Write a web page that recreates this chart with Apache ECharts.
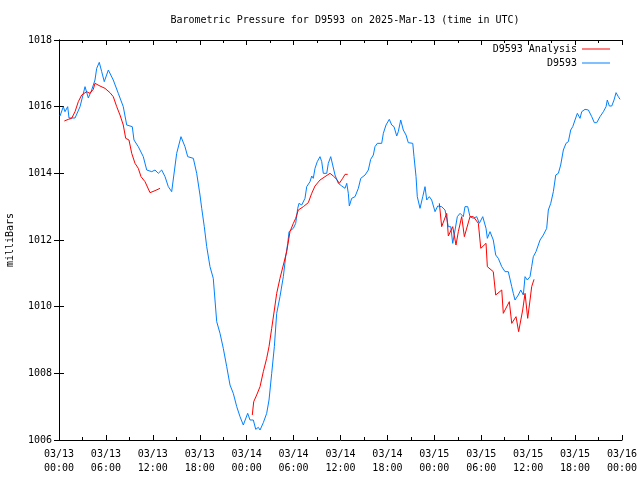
<!DOCTYPE html>
<html>
<head>
<meta charset="utf-8">
<script src="https://cdn.jsdelivr.net/npm/echarts@6/dist/echarts.min.js"></script>
<style>html,body{margin:0;padding:0;background:#fff}#c{width:640px;height:480px}</style>
</head>
<body>
<div id="c"></div>
<script>
// hours since 2025-03-13 00:00 UTC
var observedHours = [0.13,0.55,0.77,1.11,1.28,2.05,2.69,3.33,3.75,4.18,4.60,4.82,5.15,5.46,5.79,6.31,6.94,7.58,8.22,8.66,9.37,9.59,10.14,10.78,11.22,11.86,12.28,12.70,13.13,13.56,13.98,14.41,15.05,15.60,16.11,16.46,17.18,17.61,18.03,18.25,18.58,18.89,19.31,19.73,19.95,20.17,20.59,21.01,21.45,21.87,22.29,22.73,23.15,23.57,23.79,24.13,24.43,24.85,25.16,25.49,25.71,26.13,26.56,26.86,27.20,27.54,27.84,28.26,28.69,28.99,29.25,29.42,29.97,30.27,30.53,30.69,31.04,31.46,31.68,32.10,32.32,32.52,32.74,33.03,33.38,33.60,33.80,34.24,34.44,34.75,35.00,35.30,35.72,36.16,36.58,36.80,37.00,37.13,37.43,37.86,38.28,38.59,39.14,39.56,39.86,40.20,40.41,40.71,41.27,41.48,41.82,42.24,42.55,42.84,43.19,43.39,43.70,44.03,44.38,44.67,45.24,45.40,45.66,45.82,46.17,46.52,46.81,47.03,47.36,47.66,48.09,48.43,48.94,49.37,49.79,50.10,50.35,50.65,50.94,51.29,51.71,51.92,52.27,52.56,52.99,53.42,53.75,54.19,54.61,54.78,55.12,55.54,55.85,56.18,56.62,57.04,57.46,57.90,58.10,58.32,58.74,59.05,59.38,59.60,59.89,60.24,60.45,60.66,61.00,61.52,61.94,62.37,62.58,62.89,63.22,63.53,63.86,64.16,64.50,64.84,65.14,65.44,65.70,65.99,66.29,66.63,66.85,67.27,67.70,68.13,68.46,68.77,69.19,69.62,69.96,70.12,70.38,70.69,70.98,71.24,71.53,71.75];
var observedPressure = [1015.72,1016.0,1015.85,1016.0,1015.66,1015.66,1016.0,1016.6,1016.26,1016.5,1016.8,1017.15,1017.33,1017.05,1016.75,1017.1,1016.8,1016.4,1016.0,1015.45,1015.4,1015.0,1014.8,1014.5,1014.1,1014.05,1014.1,1014.0,1014.1,1013.9,1013.6,1013.45,1014.6,1015.1,1014.8,1014.5,1014.45,1014.0,1013.35,1012.95,1012.4,1011.8,1011.2,1010.85,1010.2,1009.55,1009.2,1008.75,1008.2,1007.65,1007.4,1007.0,1006.7,1006.45,1006.4,1006.8,1006.6,1006.6,1006.32,1006.38,1006.3,1006.52,1006.8,1007.2,1008.0,1008.8,1009.8,1010.3,1010.9,1011.5,1011.9,1012.25,1012.35,1012.5,1012.95,1013.1,1013.05,1013.25,1013.6,1013.75,1013.92,1013.85,1014.15,1014.35,1014.5,1014.35,1014.0,1014.0,1014.3,1014.5,1014.25,1013.95,1013.7,1013.62,1013.55,1013.7,1013.4,1013.02,1013.25,1013.3,1013.55,1013.85,1013.95,1014.1,1014.42,1014.55,1014.8,1014.9,1014.9,1015.2,1015.45,1015.62,1015.45,1015.4,1015.12,1015.25,1015.6,1015.3,1015.15,1014.92,1014.9,1014.5,1013.9,1013.3,1012.95,1013.3,1013.6,1013.2,1013.3,1013.2,1012.85,1013.02,1013.0,1012.9,1012.4,1012.4,1011.9,1012.3,1012.7,1012.8,1012.7,1013.0,1013.0,1012.7,1012.65,1012.7,1012.5,1012.7,1012.35,1012.05,1012.25,1012.0,1011.55,1011.45,1011.2,1011.05,1011.05,1010.6,1010.4,1010.2,1010.35,1010.5,1010.35,1010.9,1010.8,1010.9,1011.2,1011.5,1011.65,1012.0,1012.15,1012.35,1012.9,1013.1,1013.45,1013.95,1014.0,1014.25,1014.7,1014.9,1014.95,1015.3,1015.4,1015.6,1015.8,1015.65,1015.85,1015.92,1015.9,1015.7,1015.52,1015.52,1015.7,1015.85,1016.0,1016.2,1016.02,1016.02,1016.2,1016.42,1016.3,1016.22];
// analysis: null marks a gap between runs
var analysisHours = [0.68,1.19,1.62,2.05,2.47,2.90,3.54,3.96,4.39,4.60,5.24,5.88,6.52,6.94,7.38,7.80,8.22,8.53,8.95,9.30,9.72,10.14,10.49,11.00,11.64,12.28,12.92,null,
  24.72,24.90,25.28,25.71,26.13,26.56,26.86,27.20,27.54,27.84,28.26,28.69,29.12,29.54,29.97,30.27,30.60,31.25,31.88,32.32,32.74,33.38,34.02,34.66,35.08,35.51,35.85,36.28,36.58,36.92,null,
  48.64,48.94,49.58,49.79,50.35,50.77,51.07,51.50,51.84,52.56,52.99,53.63,53.94,54.61,54.78,55.54,55.85,56.62,56.82,57.59,57.90,58.45,58.78,59.30,59.60,59.94,60.24,60.45,60.75];
var analysisPressure = [1015.57,1015.62,1015.65,1015.85,1016.15,1016.35,1016.45,1016.4,1016.52,1016.7,1016.62,1016.55,1016.42,1016.3,1016.0,1015.75,1015.45,1015.05,1015.0,1014.6,1014.3,1014.15,1013.9,1013.75,1013.42,1013.48,1013.55,null,
  1006.75,1007.15,1007.35,1007.6,1008.05,1008.45,1008.8,1009.35,1009.9,1010.4,1010.85,1011.25,1011.65,1012.25,1012.5,1012.65,1012.9,1013.0,1013.12,1013.4,1013.62,1013.8,1013.9,1014.0,1013.92,1013.82,1013.7,1013.85,1013.97,1013.97,null,
  1013.1,1012.4,1012.8,1012.12,1012.4,1011.85,1012.25,1012.7,1012.1,1012.7,1012.7,1012.5,1011.75,1011.9,1011.2,1011.05,1010.35,1010.5,1009.8,1010.15,1009.5,1009.7,1009.25,1009.9,1010.4,1009.65,1010.2,1010.6,1010.82];
var startDay = 13;
var titleText = 'Barometric Pressure for D9593 on 2025-Mar-13 (time in UTC)';

function pairs(xs, ys) {
  var out = [];
  for (var i = 0; i < xs.length; i++) {
    if (xs[i] === null || ys[i] === null) out.push([xs[i] === null ? '-' : xs[i], '-']);
    else out.push([xs[i], ys[i]]);
  }
  return out;
}
function pad(n) { return (n < 10 ? '0' : '') + n; }
function timeLabel(h) {
  var d = startDay + Math.floor(h / 24);
  var hr = Math.round(h % 24);
  return '03/' + pad(d) + '\n' + pad(hr) + ':00';
}
var FONT = 'DejaVu Sans Mono';
var axisCommon = {
  axisLine: { show: true, lineStyle: { color: '#000', width: 1 } },
  splitLine: { show: false },
};
var lineIcon = 'rect';
var chart = echarts.init(document.getElementById('c'), null, { renderer: 'canvas' });
chart.setOption({
  animation: false,
  backgroundColor: '#fff',
  title: {
    text: titleText, left: 340, top: 10, textAlign: 'center',
    textStyle: { fontFamily: FONT, fontSize: 10, fontWeight: 'normal', color: '#000' }
  },
  legend: {
    data: [{ name: 'D9593 Analysis', icon: lineIcon }, { name: 'D9593', icon: lineIcon }],
    orient: 'vertical', right: 30, top: 44, align: 'right',
    itemWidth: 28, itemHeight: 1, itemGap: 4,
    textStyle: { fontFamily: FONT, fontSize: 10, color: '#000', padding: [0, 0, 0, 0] },
    padding: 0
  },
  grid: { left: 59, right: 18, top: 40, bottom: 40, containLabel: false, outerBoundsMode: 'none' },
  xAxis: [
    Object.assign({
      type: 'value', min: 0, max: 72, interval: 6, position: 'bottom',
      axisTick: { show: true, inside: true, length: 5, lineStyle: { color: '#000' } },
      minorTick: { show: true, splitNumber: 2, length: 3, lineStyle: { color: '#000' } },
      axisLabel: { formatter: timeLabel, fontFamily: FONT, fontSize: 10, color: '#000', margin: 7, lineHeight: 14 }
    }, axisCommon),
    Object.assign({
      type: 'value', min: 0, max: 72, interval: 6, position: 'top',
      axisTick: { show: true, inside: true, length: 5, lineStyle: { color: '#000' } },
      minorTick: { show: true, splitNumber: 2, length: 3, lineStyle: { color: '#000' } },
      axisLabel: { show: false }
    }, axisCommon)
  ],
  yAxis: [
    Object.assign({
      type: 'value', min: 1006, max: 1018, interval: 2, position: 'left',
      name: 'milliBars', nameLocation: 'middle', nameRotate: 90, nameGap: 44,
      nameTextStyle: { fontFamily: FONT, fontSize: 10, color: '#000' },
      axisTick: { show: true, inside: true, length: 5, lineStyle: { color: '#000' } },
      axisLabel: { fontFamily: FONT, fontSize: 10, color: '#000', margin: 7, formatter: function (v) { return String(v); } }
    }, axisCommon),
    Object.assign({
      type: 'value', min: 1006, max: 1018, interval: 2, position: 'right',
      axisTick: { show: true, inside: true, length: 5, lineStyle: { color: '#000' } },
      axisLabel: { show: false }
    }, axisCommon)
  ],
  series: [
    {
      name: 'D9593', type: 'line', xAxisIndex: 0, yAxisIndex: 0,
      data: pairs(observedHours, observedPressure),
      symbol: 'none', lineStyle: { color: '#0080ff', width: 1 }, itemStyle: { color: '#0080ff' }
    },
    {
      name: 'D9593 Analysis', type: 'line', xAxisIndex: 0, yAxisIndex: 0,
      data: pairs(analysisHours, analysisPressure), connectNulls: false,
      symbol: 'none', lineStyle: { color: '#ff0000', width: 1 }, itemStyle: { color: '#ff0000' }
    }
  ]
});
</script>
</body>
</html>
